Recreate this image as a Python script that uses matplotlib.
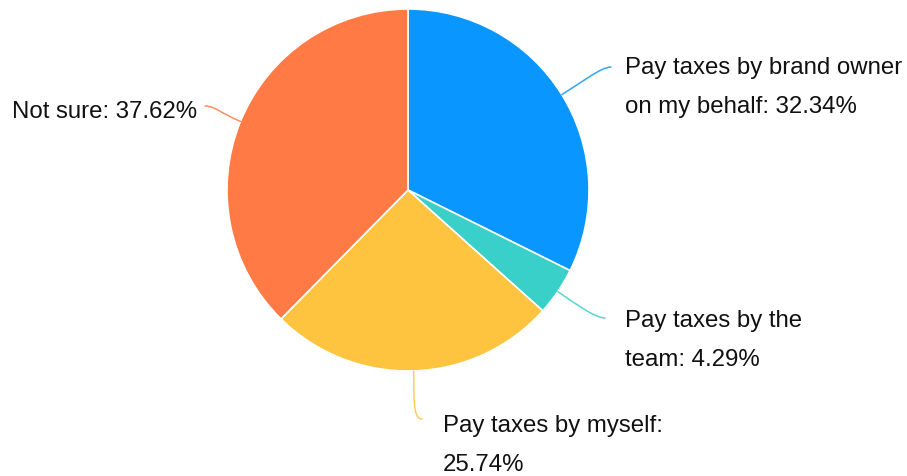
import textwrap

import matplotlib
matplotlib.use("Agg")
import matplotlib.pyplot as plt
import numpy as np
from matplotlib.path import Path
from matplotlib.patches import PathPatch

# Survey answers and their shares (%)
categories = [
    "Pay taxes by brand owner on my behalf",
    "Pay taxes by the team",
    "Pay taxes by myself",
    "Not sure",
]
shares = [32.34, 4.29, 25.74, 37.62]
colors = ["#0A96FF", "#38D0C8", "#FFC43F", "#FF7A45"]

# Label layout (pixel coordinates, origin top-left)
wrap_widths = [24, 16, 20, 30]
text_anchor = [(625, 74), (625, 327), (443, 432), (197, 118)]
text_align = ["left", "left", "left", "right"]
leader_end = [(611, 68), (605, 319), (422, 420), (205, 107)]
line_step = 39

W, H = 907, 477
CX, CY, R = 408, 191, 181

plt.rcParams["font.family"] = ["Liberation Sans", "DejaVu Sans"]

fig = plt.figure(figsize=(W / 100, H / 100), dpi=100)
ax = fig.add_axes([0, 0, 1, 1])

wedges, _ = ax.pie(
    shares,
    colors=colors,
    startangle=90,
    counterclock=False,
    center=(CX, H - CY),
    radius=R,
    wedgeprops=dict(edgecolor="white", linewidth=1.2),
)

for wedge, cat, val, col, ww, (tx, ty), ha, (ex, ey) in zip(
    wedges, categories, shares, colors, wrap_widths, text_anchor, text_align, leader_end
):
    mid = np.deg2rad((wedge.theta1 + wedge.theta2) / 2)
    ux, uy = np.cos(mid), np.sin(mid)
    p0 = (CX + R * ux, H - CY + R * uy)
    p1 = (p0[0] + 22 * ux, p0[1] + 22 * uy)
    side = 1 if ex > CX else -1
    p3 = (ex, H - ey)
    p2 = (ex - side * 10, H - ey)
    path = Path([p0, p1, p2, p3], [Path.MOVETO, Path.CURVE4, Path.CURVE4, Path.CURVE4])
    ax.add_patch(PathPatch(path, facecolor="none", edgecolor=col, lw=1.1, alpha=0.85,
                           capstyle="round"))

    label = f"{cat}: {val:.2f}%"
    for i, line in enumerate(textwrap.wrap(label, width=ww)):
        ax.text(tx, H - (ty + i * line_step), line, ha=ha, va="baseline",
                fontsize=17.3, color="#111111")

ax.set_xlim(0, W)
ax.set_ylim(0, H)
ax.set_aspect("equal")
ax.axis("off")

fig.savefig("out.png", dpi=100, facecolor="white")
